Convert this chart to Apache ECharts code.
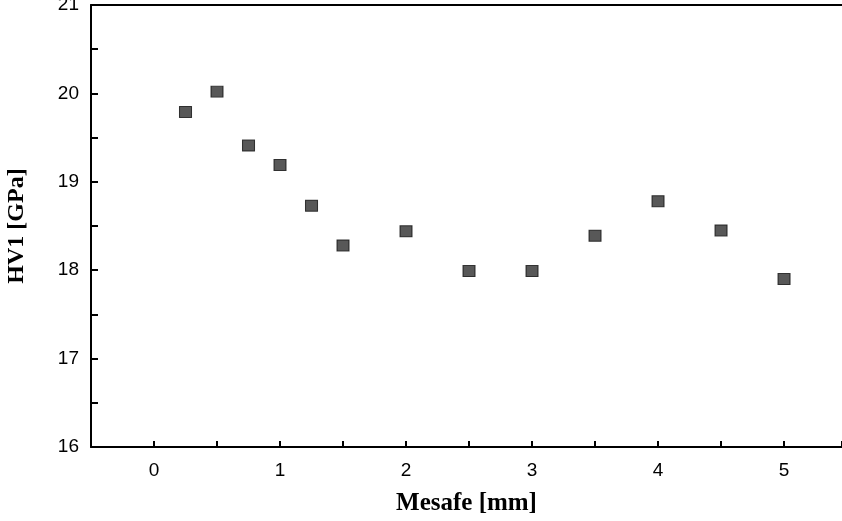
<!DOCTYPE html>
<html><head><meta charset="utf-8">
<script src="https://cdn.jsdelivr.net/npm/echarts@6/dist/echarts.min.js"></script>
<style>html,body{margin:0;padding:0;background:#fff}#c{width:842px;height:521px}</style>
</head><body><div id="c"></div>
<script>
const xValues = [0.25, 0.5, 0.75, 1.0, 1.25, 1.5, 2.0, 2.5, 3.0, 3.5, 4.0, 4.5, 5.0];
const hvValues = [19.79, 20.02, 19.41, 19.19, 18.73, 18.28, 18.44, 17.99, 17.99, 18.39, 18.78, 18.45, 17.90];
const xTitle = 'Mesafe [mm]';
const yTitle = 'HV1 [GPa]';

const chart = echarts.init(document.getElementById('c'), null, {renderer: 'canvas'});
const data = xValues.map((x, i) => [x, hvValues[i]]);
const intLabel = v => (Math.abs(v - Math.round(v)) < 1e-6 ? String(Math.round(v)) : '');
chart.setOption({
  animation: false,
  backgroundColor: '#fff',
  grid: {left: 91, right: 0, top: 5, bottom: 74, show: false, containLabel: false, outerBoundsMode: 'none'},
  xAxis: [{
    type: 'value', min: -0.5, max: 5.46, interval: 0.5,
    axisLine: {show: true, onZero: false, lineStyle: {color: '#000', width: 2}},
    axisTick: {show: true, inside: true, length: 6, lineStyle: {color: '#000', width: 2}},
    splitLine: {show: false},
    axisLabel: {color: '#000', fontSize: 19, fontFamily: 'Liberation Sans', margin: 14, formatter: intLabel},
    name: xTitle, nameLocation: 'middle', nameGap: 44,
    nameTextStyle: {color: '#000', fontSize: 25, fontWeight: 'bold', fontFamily: 'Liberation Serif'}
  }, {
    type: 'value', position: 'top', min: -0.5, max: 5.46, interval: 0.5,
    axisLine: {show: true, onZero: false, lineStyle: {color: '#000', width: 2}},
    axisTick: {show: false}, axisLabel: {show: false}, splitLine: {show: false}
  }],
  yAxis: {
    type: 'value', min: 16, max: 21, interval: 0.5,
    axisLine: {show: true, onZero: false, lineStyle: {color: '#000', width: 2}},
    axisTick: {show: true, inside: true, length: 7, lineStyle: {color: '#000', width: 2}},
    splitLine: {show: false},
    axisLabel: {color: '#000', fontSize: 19, fontFamily: 'Liberation Sans', margin: 12, formatter: intLabel},
    name: yTitle, nameLocation: 'middle', nameGap: 62, nameRotate: 90,
    nameTextStyle: {color: '#000', fontSize: 24, fontWeight: 'bold', fontFamily: 'Liberation Serif'}
  },
  series: [{
    type: 'scatter', data: data, xAxisIndex: 0,
    symbol: 'rect', symbolSize: [12, 11],
    itemStyle: {color: '#2e2e2e', borderColor: '#111', borderWidth: 1}
  }]
});
</script></body></html>
